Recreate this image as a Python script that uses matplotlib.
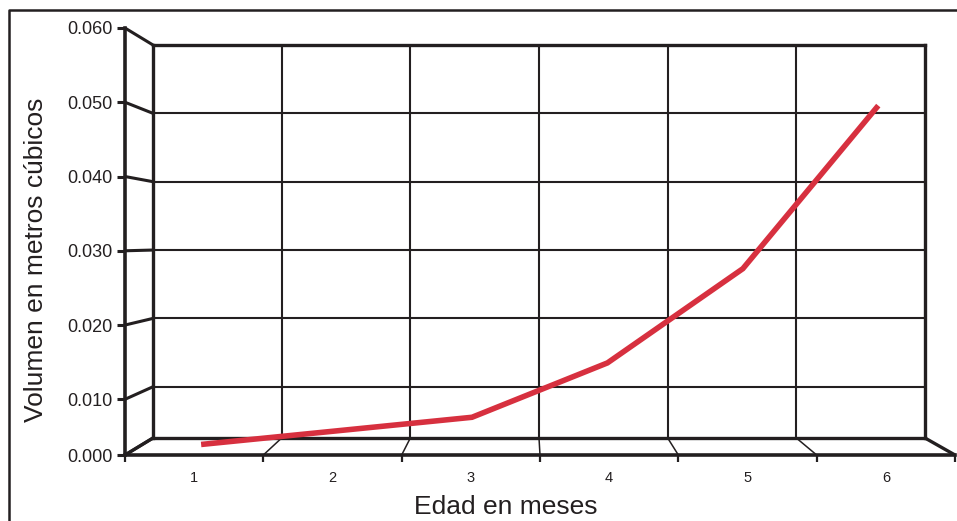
import numpy as np
import matplotlib
matplotlib.use('Agg')
import matplotlib.pyplot as plt
from matplotlib.lines import Line2D

meses = [1, 2, 3, 4, 5, 6]
volumen = [0.001, 0.0035, 0.006, 0.0145, 0.0275, 0.050]
valores_y = [0.0, 0.01, 0.02, 0.03, 0.04, 0.05, 0.06]
etiquetas_y = ['0.000', '0.010', '0.020', '0.030', '0.040', '0.050', '0.060']
etiquetas_x = ['1', '2', '3', '4', '5', '6']

W, H = 957, 521
NEGRO = '#231f20'
ROJO = '#d7303f'

plt.rcParams['font.family'] = ['Liberation Sans', 'DejaVu Sans']


# el primer tramo (0 a 0.010) esta comprimido en el original
def adelante(v):
    v = np.asarray(v, dtype=float)
    return np.where(v < 0.01, v * 0.75, v - 0.0025)


def atras(u):
    u = np.asarray(u, dtype=float)
    return np.where(u < 0.0075, u / 0.75, u + 0.0025)


def caja(x0, y0, x1, y1):
    # pixeles (origen arriba a la izquierda) -> fraccion de figura
    return [x0 / W, 1 - y1 / H, (x1 - x0) / W, (y1 - y0) / H]


fig = plt.figure(figsize=(W / 100, H / 100), dpi=100)

fondo = fig.add_axes(caja(153, 45, 925, 438))
frente = fig.add_axes(caja(125, 28, 955, 455))
datos = fig.add_axes(caja(133.4, 33.1, 946, 449.9))
datos.set_zorder(5)

for axe in (fondo, frente, datos):
    axe.set_yscale('function', functions=(adelante, atras))
    axe.set_xlim(0.5, 6.5)
    axe.set_ylim(0, 0.06)
    axe.patch.set_visible(False)

# pared del fondo con la cuadricula
fondo.set_yticks(valores_y[1:-1])
fondo.set_xticks(np.arange(1.5, 6, 1))
fondo.tick_params(length=0, labelleft=False, labelbottom=False)
fondo.grid(True, color=NEGRO, lw=1.5)
for s in fondo.spines.values():
    s.set_color(NEGRO)
    s.set_linewidth(2.4)

# ejes del frente
frente.spines['top'].set_visible(False)
frente.spines['right'].set_visible(False)
for lado in ('left', 'bottom'):
    frente.spines[lado].set_color(NEGRO)
    frente.spines[lado].set_linewidth(2.6)
frente.set_yticks(valores_y)
frente.set_yticklabels(etiquetas_y)
frente.tick_params(axis='y', length=5.8, width=2.2, pad=2.9, labelsize=13,
                   color=NEGRO, labelcolor=NEGRO)
frente.set_xticks(np.arange(0.5, 7, 1))
frente.set_xticklabels([])
frente.set_xticks(meses, minor=True)
frente.set_xticklabels(etiquetas_x, minor=True)
frente.tick_params(axis='x', which='major', length=5, width=1.6, color=NEGRO)
frente.tick_params(axis='x', which='minor', length=0, pad=11.5, labelsize=10.5,
                   labelcolor=NEGRO)

# serie
datos.axis('off')
datos.plot(meses, volumen, color=ROJO, lw=4, solid_capstyle='butt',
           solid_joinstyle='miter')

# lineas de perspectiva entre frente y fondo
a_fig = fig.transFigure.inverted()


def unir(p, q, grosor):
    (x0, y0), (x1, y1) = a_fig.transform([p, q])
    fig.add_artist(Line2D([x0, x1], [y0, y1], color=NEGRO, lw=grosor,
                          solid_capstyle='butt'))


for v in valores_y:
    unir(frente.transData.transform((0.5, v)), fondo.transData.transform((0.5, v)), 2.2)

bordes = np.arange(0.5, 7, 1)
for i, b in enumerate(bordes):
    grosor = 2.4 if i in (0, len(bordes) - 1) else 1.1
    unir(frente.transData.transform((b, 0)), fondo.transData.transform((b, 0)), grosor)

# marco exterior
fig.add_artist(Line2D([9 / W, 9 / W, 1], [0, 1 - 9.5 / H, 1 - 9.5 / H],
                      color=NEGRO, lw=1.8))

fig.text(36.5 / W, 1 - 260 / H, 'Volumen en metros cúbicos', rotation=90,
         ha='center', va='center', fontsize=19, color=NEGRO)
fig.text(506 / W, 1 - 514 / H, 'Edad en meses', ha='center', va='baseline',
         fontsize=19, color=NEGRO)

fig.savefig('out.png', dpi=100)
